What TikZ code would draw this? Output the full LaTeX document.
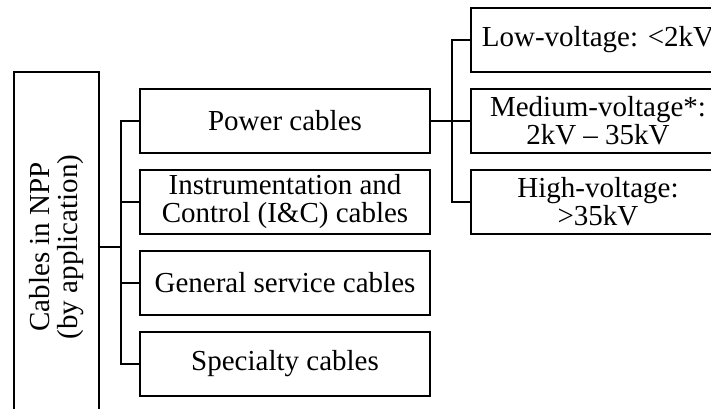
\documentclass[tikz,border=0pt]{standalone}
\usepackage{fontspec}
\setmainfont{Liberation Serif}

\begin{document}
\begin{tikzpicture}[x=0.5pt,y=-0.5pt,line width=1pt,
  box/.style={draw,rectangle,align=center,inner sep=2pt,font=\fontsize{14.5}{14}\selectfont},
  catbox/.style={box,minimum width=145pt,minimum height=32pt},
  voltbox/.style={box,minimum width=127pt,minimum height=32pt}]
  \useasboundingbox (0,0) rectangle (711,408);
  \clip (0,0) rectangle (711,408);
  % root
  \node[box,rotate=90,minimum width=175pt,minimum height=42.5pt] (root) at (56.5,247)
    {Cables in NPP\\(by application)};
  % by application
  \node[catbox] (power) at (285,121)   {Power cables};
  \node[catbox] (ic)    at (285,201.5) {Instrumentation and\\Control (I\&C) cables};
  \node[catbox] (gen)   at (285,283)   {General service cables};
  \node[catbox] (spec)  at (285,363.5) {Specialty cables};
  \foreach \n in {power,ic,gen,spec} \draw (root.south) -- ++(21,0) |- (\n.west);
  % power cables by voltage
  \node[voltbox] (low)  at (598,40)    {Low-voltage: <2kV};
  \node[voltbox] (med)  at (598,120.5) {Medium-voltage*:\\2kV -- 35kV};
  \node[voltbox] (high) at (598,201.5) {High-voltage:\\>35kV};
  \foreach \n in {low,med,high} \draw (power.east) -- ++(21,0) |- (\n.west);
\end{tikzpicture}
\end{document}
